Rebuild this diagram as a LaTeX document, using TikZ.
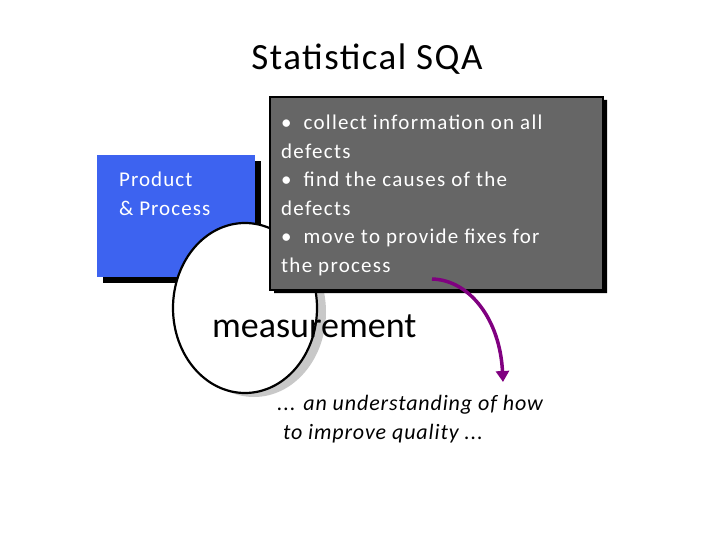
\documentclass[tikz,border=0pt]{standalone}
\usepackage{fontspec}
\setmainfont{Carlito}
\usetikzlibrary{shapes.geometric,shapes.misc,arrows.meta}
\definecolor{boxblue}{RGB}{61,99,240}
\definecolor{boxgray}{RGB}{102,102,102}
\definecolor{shadegray}{RGB}{200,200,200}
\definecolor{arrowpurple}{RGB}{128,0,128}
\newcommand{\ls}[1]{\addfontfeatures{LetterSpace=#1}}
\tikzset{
  bluebox/.style={rectangle, fill=boxblue, minimum width=158pt, minimum height=122pt, inner sep=0pt},
  blueshadow/.style={rectangle, fill=black, minimum width=158pt, minimum height=122pt, inner sep=0pt},
  graybox/.style={chamfered rectangle, chamfered rectangle corners=south west, chamfered rectangle xsep=10pt, chamfered rectangle ysep=10pt, draw=black, line width=1.2pt, fill=boxgray, minimum width=333pt, minimum height=193pt, inner sep=0pt},
  grayshadow/.style={chamfered rectangle, chamfered rectangle corners=south west, chamfered rectangle xsep=10pt, chamfered rectangle ysep=10pt, fill=black, minimum width=333pt, minimum height=193pt, inner sep=0pt},
  measell/.style={ellipse, draw=black, line width=2.2pt, fill=white, minimum width=144pt, minimum height=170pt, inner sep=0pt},
  ellshadow/.style={ellipse, fill=shadegray, minimum width=144pt, minimum height=170pt, inner sep=0pt},
  whitetxt/.style={text=white, align=left, inner sep=0pt, anchor=north west},
}
\begin{document}
\begin{tikzpicture}[x=1pt,y=-1pt]
\useasboundingbox (0,0) rectangle (720,540);
% title
\node[font=\fontsize{37}{44}\selectfont\ls{4}, inner sep=0pt] (title) at (367,59) {Statistical SQA};
% blue box
\node[blueshadow] (bsh) at (182,222) {};
\node[bluebox] (blue) at (176,216) {};
\node[whitetxt, font=\fontsize{21}{28.5}\selectfont\ls{5}] (btxt) at (119,172) {Product\\\& Process};
% ellipse
\node[ellshadow] (esh) at (254,312) {};
\node[measell] (ell) at (245,308) {};
% gray box
\node[grayshadow] (gsh) at (440.5,196.5) {};
\node[graybox] (gray) at (436.5,193.5) {};
\node[whitetxt, font=\fontsize{21}{28.5}\selectfont\ls{6}] (gtxt) at (281,115) {\textbullet\ \ collect information on all\\defects\\\textbullet\ \ find the causes of the\\defects\\\textbullet\ \ move to provide fixes for\\the process};
% measurement
\node[font=\fontsize{36}{40}\selectfont, inner sep=0pt, anchor=west] (meas) at (212,326) {measurement};
% arrow
\coordinate (a1) at (432,279);
\coordinate (a2) at (503,382);
\draw[arrowpurple, line width=3.5pt, -{Triangle[length=11pt,width=13pt]}] (a1) .. controls (470,280) and (500,320) .. (a2);
% italic text
\node[font=\fontsize{22}{29}\itshape\selectfont\ls{4}, align=left, inner sep=0pt, anchor=north west] (under) at (277,395) {... an understanding of how\\\ to improve quality ...};
\end{tikzpicture}
\end{document}
